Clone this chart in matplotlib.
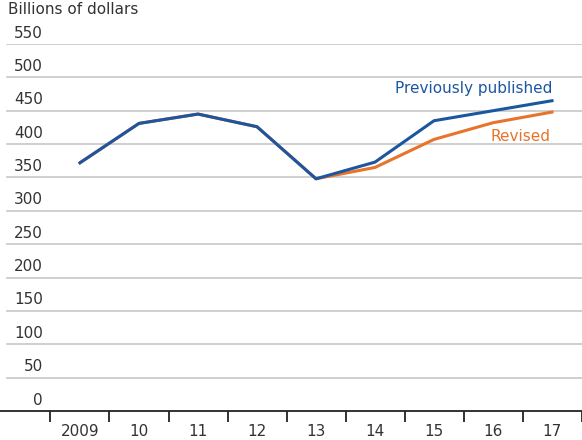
import matplotlib
matplotlib.use("Agg")
import matplotlib.pyplot as plt
import matplotlib.transforms as mtransforms

plt.rcParams['font.family'] = ['DejaVu Sans']

years = ['2009', '10', '11', '12', '13', '14', '15', '16', '17']
previous = [372, 431, 445, 426, 348, 373, 435, 450, 465]
revised = [372, 431, 445, 426, 348, 365, 407, 432, 448]
yticks = [0, 50, 100, 150, 200, 250, 300, 350, 400, 450, 500, 550]

blue = '#1d56a0'
orange = '#e8732a'
txt = '#333333'
fs = 11

W, H = 582, 440
fig = plt.figure(figsize=(W / 100, H / 100), dpi=100)
ax = fig.add_axes([0, (H - 411) / H, 1, (411 - 44) / H])

x = list(range(len(years)))
ax.set_xlim(-80 / 59, (W - 80) / 59)
ax.set_ylim(0, 550)

# light horizontal gridlines with the value sitting just above each one
for v in yticks[1:]:
    ax.axhline(v, xmin=7 / W, xmax=1, color='#cccccc', lw=1.3, zorder=1)
lab = mtransforms.blended_transform_factory(fig.transFigure, ax.transData)
off = mtransforms.offset_copy(lab, fig=fig, x=0, y=11, units='dots')
for v in yticks:
    ax.text(43 / W, v, str(v), transform=off, ha='right', va='center',
            fontsize=fs, color=txt, clip_on=False)

ax.plot(x, revised, color=orange, lw=2.2, zorder=3)
ax.plot(x, previous, color=blue, lw=2.2, zorder=4)

ax.text(x[-1], 465, 'Previously published', color=blue, fontsize=fs,
        ha='right', va='bottom', transform=mtransforms.offset_copy(
            ax.transData, fig=fig, x=0, y=5, units='dots'))
ax.text(x[-1] - 0.03, 412, 'Revised', color=orange, fontsize=fs,
        ha='right', va='center')

for s in ['top', 'right', 'left']:
    ax.spines[s].set_visible(False)
ax.spines['bottom'].set_linewidth(1.3)
ax.spines['bottom'].set_color('#222222')
ax.set_yticks([])
ax.set_xticks([i - 0.5 for i in range(len(years) + 1)])
ax.set_xticklabels([])
ax.set_xticks(x, minor=True)
ax.set_xticklabels(years, minor=True)
ax.tick_params(axis='x', which='major', direction='out', length=8, width=1.3,
               color='#222222')
ax.tick_params(axis='x', which='minor', length=0, pad=9, labelsize=fs,
               labelcolor=txt)

fig.text(8 / W, 1 - 10 / H, 'Billions of dollars', ha='left', va='center',
         fontsize=fs, color=txt)

fig.savefig('out.png', dpi=100)
